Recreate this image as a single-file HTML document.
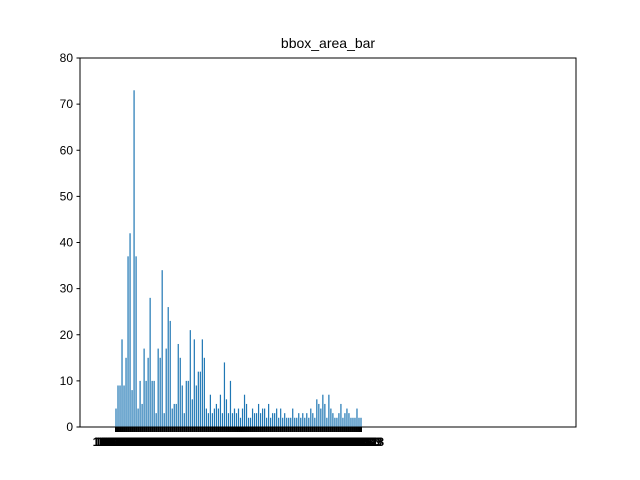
<!DOCTYPE html>
<html><head><meta charset="utf-8"><style>
body{margin:0;background:#fff}
svg{display:block;font-family:"Liberation Sans","DejaVu Sans",sans-serif}
</style></head><body>
<svg id="chart" width="640" height="480">
<rect width="640" height="480" fill="#fff"/>
<text x="328" y="48" font-size="14" text-anchor="middle">bbox_area_bar</text>
<g id="bars"></g>
<g id="xticks"></g>
<g id="yticks"></g>
<rect x="80" y="58" width="496" height="369" fill="none" stroke="#000" stroke-width="1"/>
</svg>
<script>
const values = [4,9,9,19,9,15,37,42,8,73,37,4,10,5,17,10,15,28,10,10,3,17,15,34,3,17,26,23,4,5,5,18,15,9,3,10,10,21,6,19,9,12,12,19,15,
4,3,7,3,4,5,4,7,3,14,6,3,10,3,4,3,4,2,4,7,5,2,2,4,3,3,5,3,4,4,2,5,2,3,3,4,2,4,2,3,2,2,
2,4,2,2,3,2,3,2,3,2,4,3,2,6,5,4,7,5,2,7,4,3,2,2,3,5,2,3,4,3,2,2,2,4,2,2];
const categories = values.map((v,i)=>String(1000000+i*7919));
const yTicks = [0,10,20,30,40,50,60,70,80];
const NS="http://www.w3.org/2000/svg";
const x0=80,x1=576,y0=427,y1=58,ymax=80;
const bx0=116,bx1=361;
function xs(i){return bx0+(bx1-bx0)*i/(values.length-1);}
function ys(v){return y0-(y0-y1)*v/ymax;}
const bars=document.getElementById('bars'),xt=document.getElementById('xticks'),yt=document.getElementById('yticks');
const step=(bx1-bx0)/(values.length-1), bw=step*0.6;
values.forEach((v,i)=>{
  const r=document.createElementNS(NS,'rect');
  r.setAttribute('x',xs(i)-bw/2);r.setAttribute('y',ys(v));
  r.setAttribute('width',bw);r.setAttribute('height',y0-ys(v));
  r.setAttribute('fill','#1f77b4');
  
  
  bars.appendChild(r);
  const t=document.createElementNS(NS,'line');
  t.setAttribute('x1',xs(i));t.setAttribute('x2',xs(i));t.setAttribute('y1',y0);t.setAttribute('y2',y0+5);
  t.setAttribute('stroke','#000');t.setAttribute('stroke-width','2');
  
  
  xt.appendChild(t);
  const l=document.createElementNS(NS,'text');
  l.setAttribute('x',xs(i));l.setAttribute('y',446);l.setAttribute('font-size','12');l.setAttribute('font-weight','bold');
  l.setAttribute('text-anchor','middle');l.textContent=categories[i];
  
  
  xt.appendChild(l);
});
yTicks.forEach(v=>{
  const t=document.createElementNS(NS,'line');
  t.setAttribute('x1',x0-3.5);t.setAttribute('x2',x0);t.setAttribute('y1',ys(v));t.setAttribute('y2',ys(v));
  t.setAttribute('stroke','#000');
  
  
  yt.appendChild(t);
  const l=document.createElementNS(NS,'text');
  l.setAttribute('x',x0-7);l.setAttribute('y',ys(v)+4);l.setAttribute('font-size','12');
  l.setAttribute('text-anchor','end');l.textContent=v;
  
  
  yt.appendChild(l);
});
</script>
</body></html>
